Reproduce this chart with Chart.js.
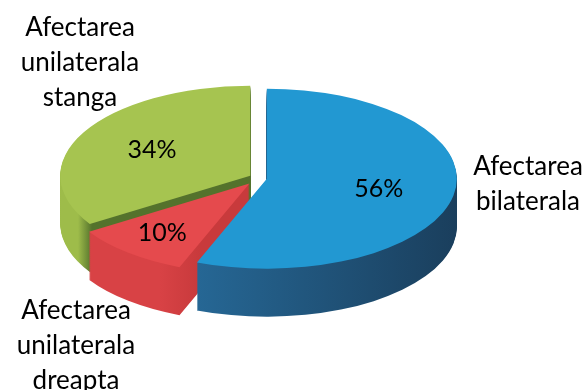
<!DOCTYPE html>
<html>
<head>
<meta charset="utf-8">
<script src="https://cdn.jsdelivr.net/npm/chart.js@4/dist/chart.umd.min.js"></script>
<style>
  html, body { margin: 0; padding: 0; background: #fff; }
  canvas { display: block; }
</style>
</head>
<body>
<canvas id="grafic" width="586" height="390"></canvas>
<script>
// date
const categorii = [
    ["Afectarea", "bilaterala"],
    ["Afectarea", "unilaterala", "dreapta"],
    ["Afectarea", "unilaterala", "stanga"]
];
const procente = [56, 10, 34];

// stil
const culori = ["rgb(34,152,210)", "rgb(229,74,77)", "rgb(166,196,80)"];
const CX = 259, CY = 178;      // centrul elipsei
const RX = 190, RY = 90;       // razele elipsei
const ADANCIME = 48;           // grosimea "3D"
const explozie = [8, 15, 10];  // cat iese fiecare felie
const razaEticheta = [0.6, 0.72, 0.59];
const pozEtichete = [          // centrul textului exterior, prima linie
    { x: 528, y: 167, align: "center" },
    { x: 76, y: 311, align: "center" },
    { x: 80, y: 28, align: "center" }
];
const INALTIME_LINIE = 35;

// transforma x din ecran in unitatile arcului
function scala(arc) { return RX / arc.outerRadius; }

function culoareLaterala(ctx, arc, i) {
    const s = scala(arc);
    const mid = (arc.startAngle + arc.endAngle) / 2;
    const ex = Math.cos(mid) * explozie[i];
    const ax = sx => (sx - CX - ex) / s + arc.x;
    if (i === 0) {
        const g = ctx.createLinearGradient(ax(190), 0, ax(460), 0);
        g.addColorStop(0, "rgb(38,104,150)");
        g.addColorStop(1, "rgb(26,62,92)");
        return g;
    }
    if (i === 1) {
        const g = ctx.createLinearGradient(ax(160), 0, ax(200), 0);
        g.addColorStop(0, "rgb(216,66,69)");
        g.addColorStop(1, "rgb(200,58,60)");
        return g;
    }
    const g = ctx.createLinearGradient(ax(78), 0, ax(92), 0);
    g.addColorStop(0, "rgb(158,188,74)");
    g.addColorStop(1, "rgb(84,114,44)");
    return g;
}

function deseneazaFelie(ctx, arc, i, d, lateral) {
    const mid = (arc.startAngle + arc.endAngle) / 2;
    const s = scala(arc);
    const ex = Math.cos(mid) * explozie[i];
    const ey = Math.sin(mid) * explozie[i] * RY / RX;
    ctx.save();
    ctx.translate(CX + ex, CY + ey + d);
    ctx.scale(s, s * RY / RX);
    ctx.translate(-arc.x, -arc.y);
    const fill = lateral ? culoareLaterala(ctx, arc, i) : culori[i];
    const f = Object.create(arc);
    f.options = Object.assign({}, arc.options, { backgroundColor: fill, borderWidth: 0, offset: 0 });
    f.draw(ctx);
    ctx.restore();
}

// plugin pentru placinta 3D
const placinta3D = {
    id: "placinta3D",
    beforeDatasetsDraw(chart) {
        const ctx = chart.ctx;
        const arcs = chart.getDatasetMeta(0).data;
        for (let d = ADANCIME; d >= 1; d--) {
            arcs.forEach((arc, i) => deseneazaFelie(ctx, arc, i, d, true));
        }
        arcs.forEach((arc, i) => deseneazaFelie(ctx, arc, i, 0, false));
        return false;
    },
    afterDraw(chart) {
        const ctx = chart.ctx;
        const arcs = chart.getDatasetMeta(0).data;
        ctx.save();
        ctx.fillStyle = "#000";
        ctx.textBaseline = "middle";
        ctx.textAlign = "center";
        // procente pe felii
        ctx.font = "25px Lato";
        arcs.forEach((arc, i) => {
            const mid = (arc.startAngle + arc.endAngle) / 2;
            const r = razaEticheta[i];
            const x = CX + Math.cos(mid) * (explozie[i] + r * RX);
            const y = CY + Math.sin(mid) * (explozie[i] + r * RX) * RY / RX;
            ctx.fillText(chart.data.datasets[0].data[i] + "%", x, y);
        });
        // etichete exterioare
        ctx.font = "26px Lato";
        chart.data.labels.forEach((linii, i) => {
            const p = pozEtichete[i];
            ctx.textAlign = p.align;
            linii.forEach((t, k) => ctx.fillText(t, p.x, p.y + k * INALTIME_LINIE));
        });
        ctx.restore();
    }
};

new Chart(document.getElementById("grafic").getContext("2d"), {
    type: "pie",
    data: {
        labels: categorii,
        datasets: [{
            data: procente,
            backgroundColor: culori,
            borderWidth: 0
        }]
    },
    options: {
        responsive: false,
        animation: false,
        events: [],
        layout: { padding: 0 },
        plugins: {
            legend: { display: false },
            tooltip: { enabled: false }
        }
    },
    plugins: [placinta3D]
});
</script>
</body>
</html>
